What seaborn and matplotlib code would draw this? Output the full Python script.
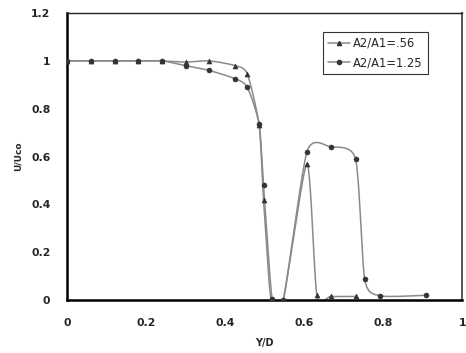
import numpy as np
import matplotlib
matplotlib.use('Agg')
import matplotlib.pyplot as plt
import seaborn as sns
from matplotlib.lines import Line2D

# data
yd_056 = [0.0, 0.06, 0.12, 0.18, 0.24, 0.30, 0.36, 0.426, 0.456, 0.486, 0.497, 0.516, 0.547, 0.607, 0.632, 0.667, 0.730]
u_056 = [1.0, 1.0, 1.0, 1.0, 1.0, 0.995, 1.0, 0.98, 0.946, 0.73, 0.42, 0.003, 0.0, 0.57, 0.02, 0.015, 0.015]

yd_125 = [0.0, 0.06, 0.12, 0.18, 0.24, 0.30, 0.36, 0.426, 0.456, 0.486, 0.497, 0.519, 0.547, 0.607, 0.667, 0.730, 0.753, 0.791, 0.909]
u_125 = [1.0, 1.0, 1.0, 1.0, 1.0, 0.98, 0.96, 0.925, 0.89, 0.735, 0.48, 0.003, 0.0, 0.62, 0.64, 0.59, 0.088, 0.018, 0.02]

labels = ['A2/A1=.56', 'A2/A1=1.25']
markers = ['^', 'o']


def smooth(x, y, n=20, k=9.0):
    # bezier smoothing through the points, like the spreadsheet "smoothed line"
    x = np.asarray(x, float)
    y = np.asarray(y, float)
    px = np.concatenate([[x[0]], x, [x[-1]]])
    py = np.concatenate([[y[0]], y, [y[-1]]])
    xs, ys = [], []
    t = np.linspace(0, 1, n)
    for i in range(1, len(px) - 2):
        p0, p1, p2, p3 = (np.array([px[j], py[j]]) for j in (i - 1, i, i + 1, i + 2))
        c1 = p1 + (p2 - p0) / k
        c2 = p2 - (p3 - p1) / k
        pts = (((1 - t) ** 3)[:, None] * p1 + (3 * (1 - t) ** 2 * t)[:, None] * c1
               + (3 * (1 - t) * t ** 2)[:, None] * c2 + (t ** 3)[:, None] * p2)
        xs.extend(pts[:, 0])
        ys.extend(pts[:, 1])
    return np.array(xs), np.array(ys)


sns.set_style('white')
plt.rcParams['font.family'] = ['DejaVu Sans']

fig = plt.figure(figsize=(4.66, 3.53), dpi=100)
ax = fig.add_axes([0.144, 0.150, 0.848, 0.813])

line_col = '#8a8a8a'
mark_col = '#333333'
for xd, yv, m in [(yd_056, u_056, '^'), (yd_125, u_125, 'o')]:
    sx, sy = smooth(xd, yv)
    ax.plot(sx, sy, color=line_col, lw=1.1, zorder=2)
    sns.scatterplot(x=xd, y=yv, marker=m, color=mark_col, s=13, edgecolor=mark_col,
                    linewidth=0.4, ax=ax, zorder=3)

ax.set_xlim(0, 1)
ax.set_ylim(0, 1.2)
ax.set_xticks([0, 0.2, 0.4, 0.6, 0.8, 1])
ax.set_xticklabels(['0', '0.2', '0.4', '0.6', '0.8', '1'])
ax.set_yticks([0, 0.2, 0.4, 0.6, 0.8, 1, 1.2])
ax.set_yticklabels(['0', '0.2', '0.4', '0.6', '0.8', '1', '1.2'])
ax.tick_params(axis='both', direction='out', length=4, width=1, color='#666666',
               labelsize=7.8, pad=8)
ax.tick_params(axis='x', pad=9)
for lab in ax.get_xticklabels() + ax.get_yticklabels():
    lab.set_fontweight('bold')

for side in ['left', 'bottom']:
    ax.spines[side].set_color('black')
    ax.spines[side].set_linewidth(1.8)
ax.spines['top'].set_color('#222222')
ax.spines['top'].set_linewidth(1.0)
ax.spines['right'].set_color('#555555')
ax.spines['right'].set_linewidth(1.4)

ax.set_xlabel('Y/D', fontsize=7, fontweight='bold', labelpad=7)
ax.set_ylabel('U/Uco', fontsize=6.5, fontweight='bold')
ax.yaxis.set_label_coords(-0.112, 0.5)

handles = [Line2D([], [], color=line_col, lw=1.1, marker=m, markersize=3,
                  markerfacecolor=mark_col, markeredgecolor=mark_col) for m in markers]
leg = ax.legend(handles, labels, loc='upper left', bbox_to_anchor=(0.648, 0.935),
                fontsize=8.3, frameon=True, fancybox=False, handlelength=1.9,
                handletextpad=0.25, borderpad=0.45, labelspacing=0.55, borderaxespad=0)
leg.get_frame().set_edgecolor('black')
leg.get_frame().set_linewidth(0.8)

fig.savefig('out.png', dpi=100)
